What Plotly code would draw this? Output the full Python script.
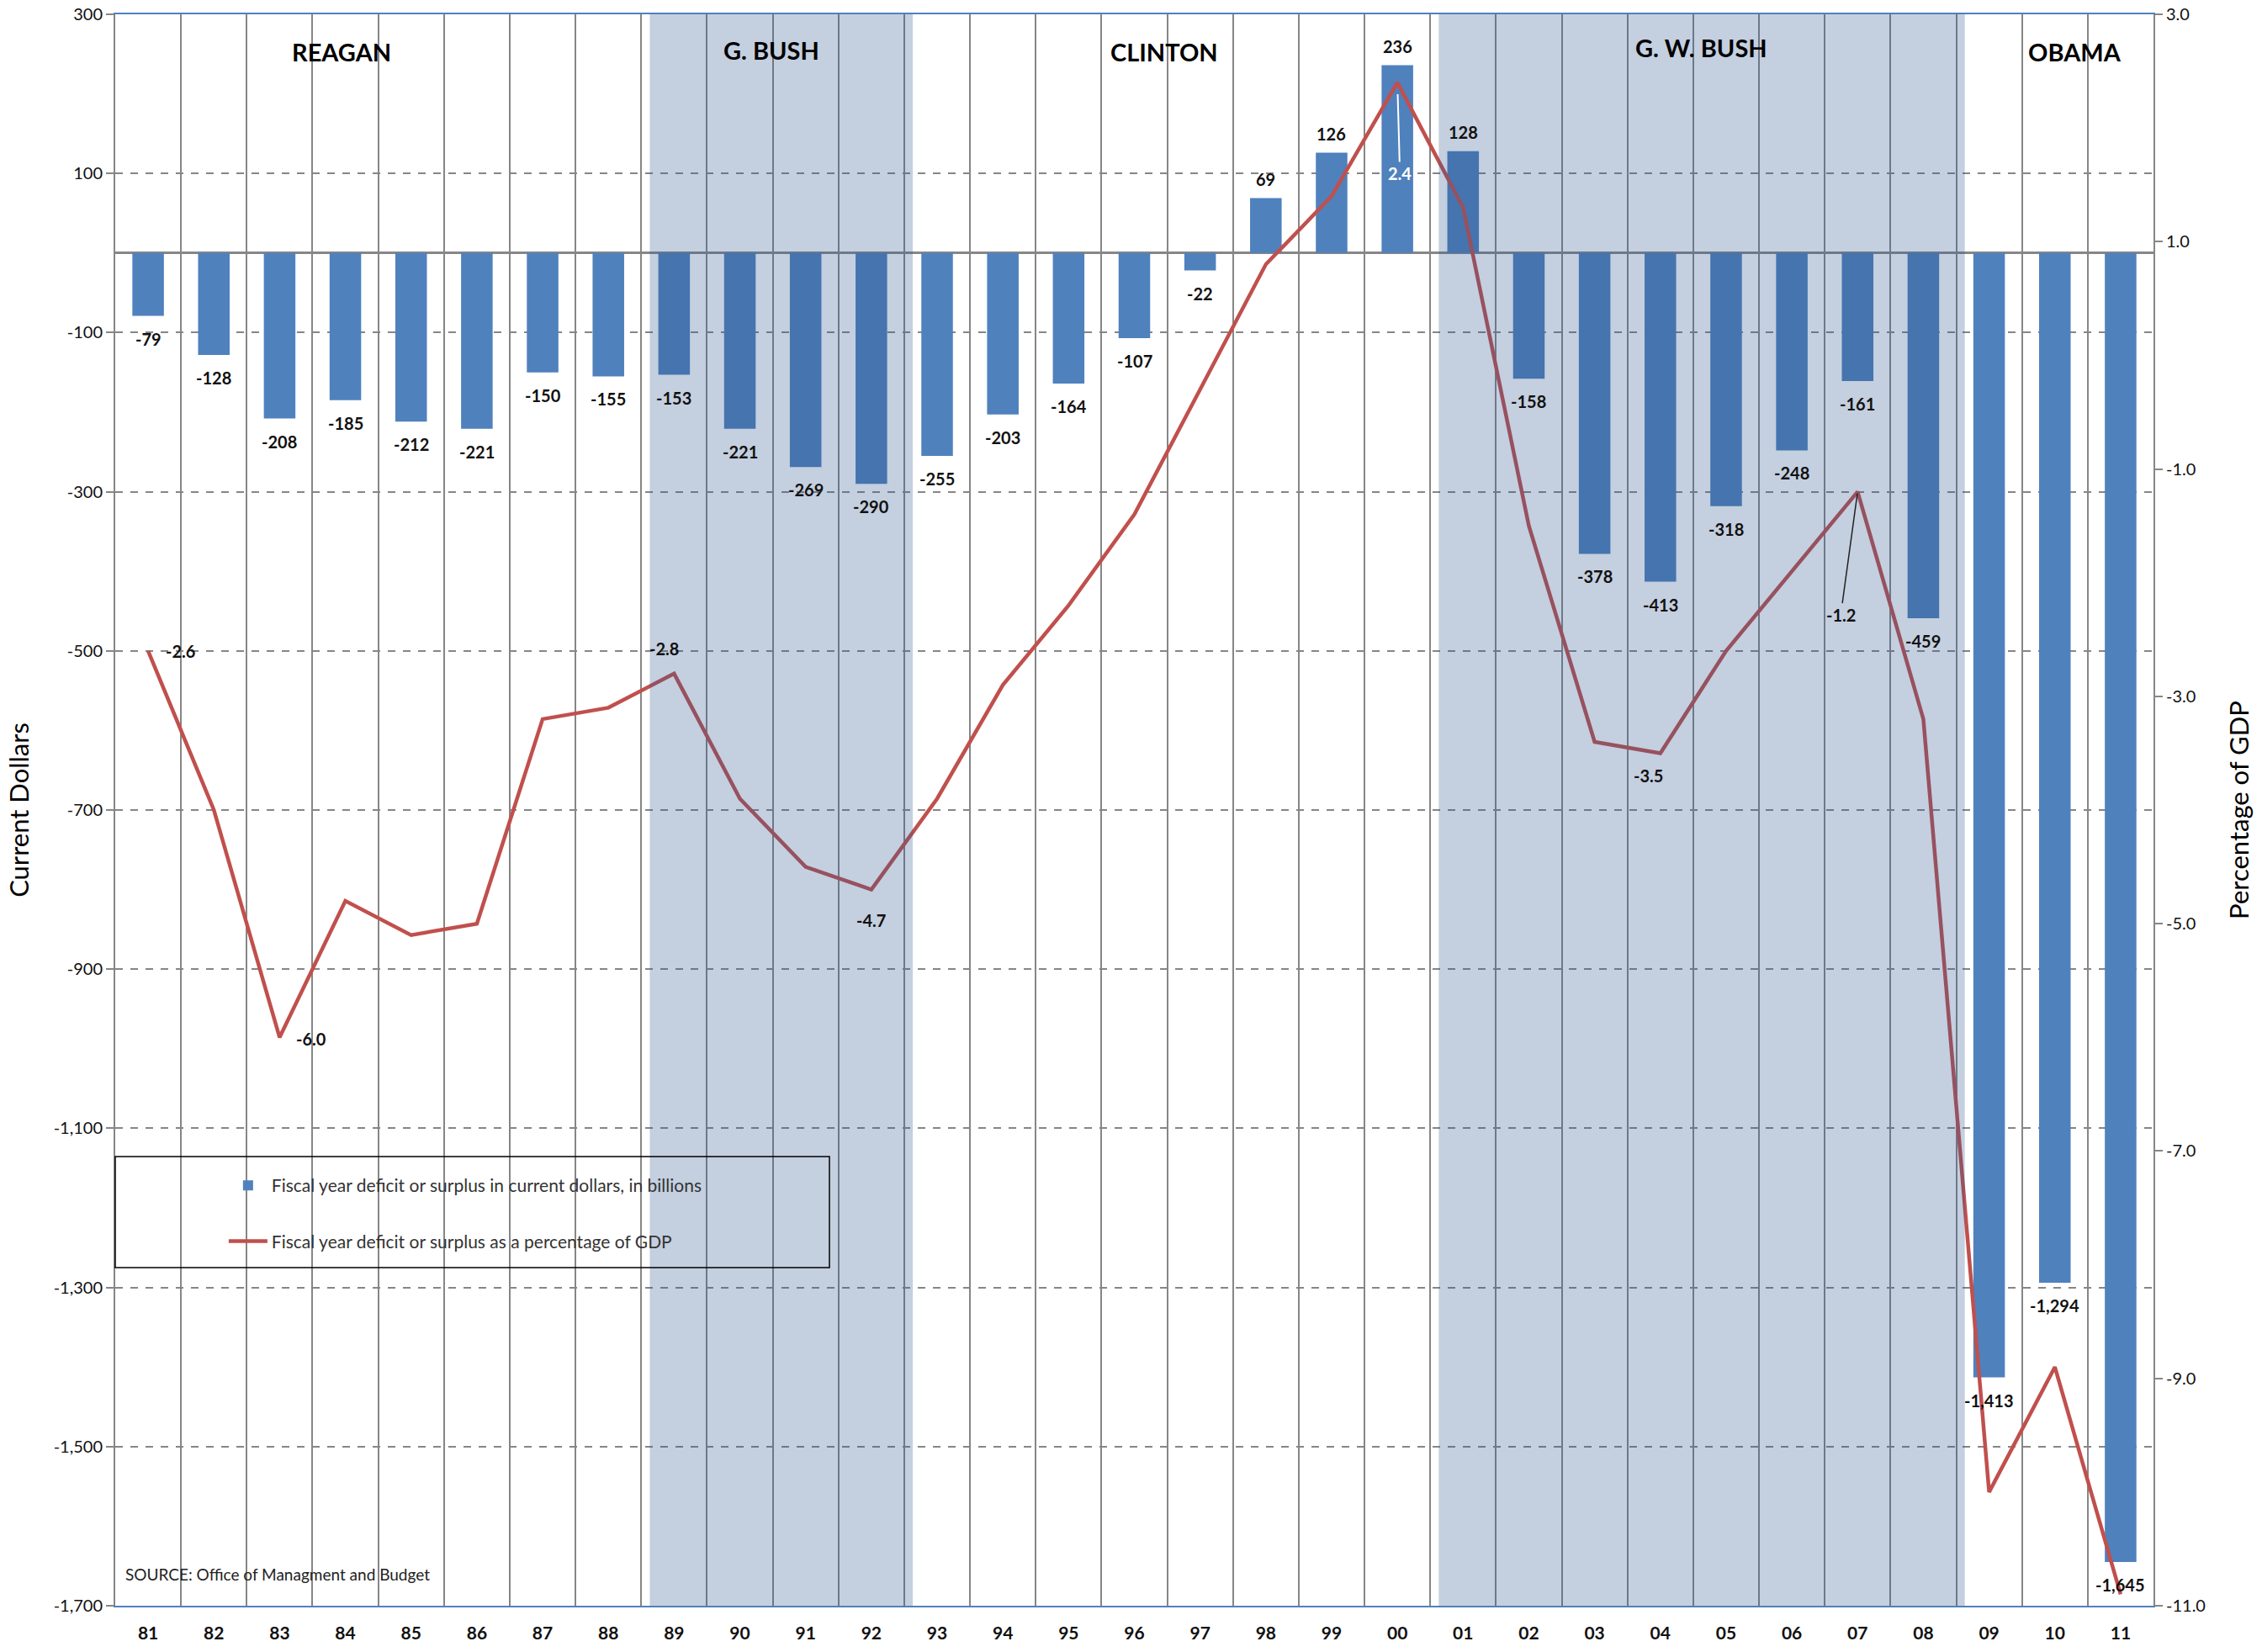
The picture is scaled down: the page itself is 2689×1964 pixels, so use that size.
import plotly.graph_objects as go

# ---------------- data ----------------
years = ["81", "82", "83", "84", "85", "86", "87", "88", "89", "90", "91", "92", "93", "94", "95", "96",
         "97", "98", "99", "00", "01", "02", "03", "04", "05", "06", "07", "08", "09", "10", "11"]
deficit_billions = [-79, -128, -208, -185, -212, -221, -150, -155, -153, -221, -269, -290, -255, -203, -164,
                    -107, -22, 69, 126, 236, 128, -158, -378, -413, -318, -248, -161, -459, -1413, -1294, -1645]
pct_gdp = [-2.6, -4.0, -6.0, -4.8, -5.1, -5.0, -3.2, -3.1, -2.8, -3.9, -4.5, -4.7, -3.9, -2.9, -2.2, -1.4,
           -0.3, 0.8, 1.4, 2.4, 1.3, -1.5, -3.4, -3.5, -2.6, -1.9, -1.2, -3.2, -10.0, -8.9, -10.9]

left_tick_values = [300, 100, -100, -300, -500, -700, -900, -1100, -1300, -1500, -1700]
left_tick_labels = ["300", "100", "-100", "-300", "-500", "-700", "-900", "-1,100", "-1,300", "-1,500", "-1,700"]
right_tick_values = [3, 1, -1, -3, -5, -7, -9, -11]
right_tick_labels = ["3.0", "1.0", "-1.0", "-3.0", "-5.0", "-7.0", "-9.0", "-11.0"]

presidents = ["REAGAN", "G. BUSH", "CLINTON", "G. W. BUSH", "OBAMA"]
shaded_terms = [("89", "92"), ("01", "08")]
labeled_pct_years = ["81", "83", "89", "92", "00", "04", "07"]

bar_name = "Fiscal year deficit or surplus in current dollars, in billions"
line_name = "Fiscal year deficit or surplus as a percentage of GDP"
source_text = "SOURCE: Office of Managment and Budget"

# ---------------- style ----------------
FONT = "Lato"
BLUE = "#4F81BD"
RED = "#C0504D"
GRID = "#868686"
TXT = "#111111"

fig = go.Figure()

fig.add_trace(go.Bar(
    x=years, y=deficit_billions, name=bar_name,
    marker=dict(color=BLUE, line=dict(width=0)),
    legendgroup="a", yaxis="y",
))
fig.add_trace(go.Scatter(
    x=years, y=pct_gdp, name=line_name, mode="lines",
    line=dict(color=RED, width=4.5), legendgroup="b", yaxis="y2",
))

annotations = []
# bar value labels (x as category index so numeric-looking labels stay on their category)
for i, v in enumerate(deficit_billions):
    annotations.append(dict(
        x=i, y=v, xref="x", yref="y", text=f"{v:,}", showarrow=False,
        yshift=-27 if v < 0 else 23, font=dict(family=FONT, size=20, color=TXT, weight="bold"),
    ))

# percentage-of-GDP labels (placement offsets in pixels)
pct_offsets = {
    "81": dict(xshift=38, yshift=0),
    "83": dict(xshift=38, yshift=-2),
    "89": dict(xshift=-12, yshift=30),
    "92": dict(xshift=0, yshift=-36),
    "04": dict(xshift=-14, yshift=-27),
}
for yr in labeled_pct_years:
    i = years.index(yr)
    v = pct_gdp[i]
    if yr in pct_offsets:
        annotations.append(dict(
            x=i, y=v, xref="x", yref="y2", text=f"{v:.1f}", showarrow=False,
            font=dict(family=FONT, size=20, color=TXT, weight="bold"), **pct_offsets[yr],
        ))
    elif yr == "00":
        annotations.append(dict(
            x=i, y=v, xref="x", yref="y2", text=f"{v:.1f}", showarrow=True,
            ax=3, ay=108, arrowhead=0, arrowwidth=2, arrowcolor="white", standoff=14,
            font=dict(family=FONT, size=20, color="white", weight="bold"),
        ))
    elif yr == "07":
        annotations.append(dict(
            x=i, y=v, xref="x", yref="y2", text=f"{v:.1f}", showarrow=True,
            ax=-20, ay=146, arrowhead=0, arrowwidth=1.5, arrowcolor="#222222", standoff=2,
            font=dict(family=FONT, size=20, color=TXT, weight="bold"),
        ))

# president names (x in category index units)
president_x = [2.94, 9.48, 15.46, 23.62, 29.3]
president_y = [253, 255, 253, 258, 253]
for name, px, py in zip(presidents, president_x, president_y):
    annotations.append(dict(
        x=px, y=py, xref="x", yref="y", text=name, showarrow=False,
        font=dict(family=FONT, size=29, color="#000000", weight="bold"),
    ))

annotations.append(dict(
    x=0.004, y=0.02, xref="paper", yref="paper", xanchor="left", yanchor="middle",
    text=source_text, showarrow=False, font=dict(family=FONT, size=19, color="#222222"),
))

# shading of Republican terms, drawn semi-transparent above the marks
shapes = []
for a, b in shaded_terms:
    shapes.append(dict(
        type="rect", xref="x", yref="paper",
        x0=years.index(a) - 0.5 + 0.13, x1=years.index(b) + 0.5 + 0.13, y0=0, y1=1,
        fillcolor="rgba(47,84,142,0.284)", line=dict(width=0), layer="above",
    ))
# legend frame
shapes.append(dict(
    type="rect", xref="paper", yref="paper", x0=0.0, x1=0.3504, y0=0.2125, y1=0.2822,
    line=dict(color="#000000", width=1.5), fillcolor="rgba(0,0,0,0)", layer="above",
))

fig.update_layout(
    width=2689, height=1964,
    margin=dict(l=137, r=129, t=17, b=55),
    paper_bgcolor="white", plot_bgcolor="white",
    font=dict(family=FONT, color=TXT),
    bargap=0.52,
    showlegend=True,
    legend=dict(
        x=0.0536, y=0.2748, xanchor="left", yanchor="top",
        bgcolor="rgba(0,0,0,0)", borderwidth=0,
        font=dict(family=FONT, size=21, color="#333333"),
        tracegroupgap=36, itemwidth=46,
    ),
    xaxis=dict(
        type="category", range=[-0.5, len(years) - 0.5],
        tickson="boundaries", showgrid=True, gridcolor=GRID, gridwidth=1.5,
        showline=True, linecolor=BLUE, linewidth=2, mirror=True,
        ticks="", ticklabelstandoff=13, ticklabeloverflow="allow",
        tickfont=dict(family=FONT, size=21, color=TXT, weight="bold"),
        automargin=False, fixedrange=True,
    ),
    yaxis=dict(
        range=[-1700, 300], tickmode="array", tickvals=left_tick_values, ticktext=left_tick_labels,
        showgrid=True, gridcolor=GRID, gridwidth=1.5, griddash="dash",
        zeroline=True, zerolinecolor=GRID, zerolinewidth=2.5,
        showline=True, linecolor=GRID, linewidth=2,
        ticks="outside", ticklen=9, tickcolor=GRID, tickwidth=1.5,
        ticklabeloverflow="allow",
        tickfont=dict(family=FONT, size=20, color=TXT),
        title=dict(text="Current Dollars", font=dict(family=FONT, size=31, color="#000000"), standoff=20),
        automargin=False,
    ),
    yaxis2=dict(
        overlaying="y", side="right", range=[-11, 3], tickmode="array",
        tickvals=right_tick_values, ticktext=right_tick_labels,
        showgrid=False, zeroline=False,
        showline=True, linecolor=GRID, linewidth=2,
        ticks="outside", ticklen=9, tickcolor=GRID, tickwidth=1.5,
        ticklabeloverflow="allow",
        tickfont=dict(family=FONT, size=20, color=TXT),
        title=dict(text="Percentage of GDP", font=dict(family=FONT, size=31, color="#000000"), standoff=30),
        automargin=False,
    ),
    annotations=annotations,
    shapes=shapes,
)

# remove the page's default 8px body margin so the full-size figure fills the window exactly
fig.write_html(
    "out.html",
    config={"displayModeBar": False},
    post_script="document.body.style.margin='0px';document.body.style.overflow='hidden';",
)
